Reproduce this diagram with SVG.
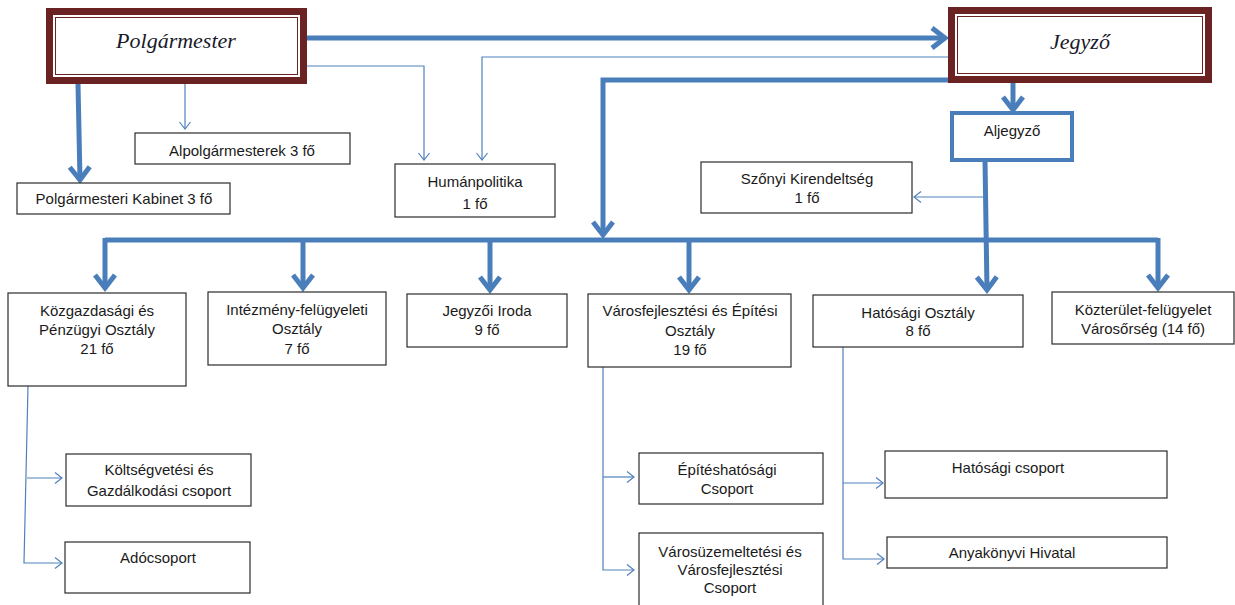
<svg xmlns="http://www.w3.org/2000/svg" width="1235" height="605" viewBox="0 0 1235 605">
<style>
.bg{fill:#ffffff}
.box rect{fill:#ffffff;stroke:#2b2b2b;stroke-width:1.2}
.t{font-family:"Liberation Sans",Arial,sans-serif;font-size:15px;fill:#1a1a1a;text-anchor:middle}
.ti{font-family:"Liberation Serif","Times New Roman",serif;font-style:italic;font-size:22px;fill:#1a1a2a;text-anchor:middle}
.outer{fill:#ffffff;stroke:#6b2222;stroke-width:7}
.inner{fill:none;stroke:#6b2222;stroke-width:1}
.thick{stroke:#4a7ebb;stroke-width:5;fill:none}
.thin{stroke:#4f81bd;stroke-width:1.2;fill:none}
.blue rect{fill:#ffffff;stroke:#4a7ebb;stroke-width:4}
</style>
<defs>
<marker id="ah" viewBox="-15 -12 17 24" refX="0" refY="0" markerWidth="17" markerHeight="24" markerUnits="userSpaceOnUse" orient="auto" overflow="visible">
<path d="M-13,-10 L0,0 L-13,10" fill="none" stroke="#4a7ebb" stroke-width="5"/>
</marker>
<marker id="at" viewBox="-8 -6 9 12" refX="0" refY="0" markerWidth="9" markerHeight="12" markerUnits="userSpaceOnUse" orient="auto" overflow="visible">
<path d="M-7,-5.5 L0,0 L-7,5.5" fill="none" stroke="#4f81bd" stroke-width="1.2"/>
</marker>
</defs>
<rect class="bg" x="0" y="0" width="1235" height="605"/>

<g id="connectors">
<line class="thick" x1="307" y1="38" x2="945" y2="38" marker-end="url(#ah)"/>
<polyline class="thin" points="307,66 424,66 424,160" marker-end="url(#at)"/>
<polyline class="thin" points="948,57 482,57 482,160" marker-end="url(#at)"/>
<polyline class="thick" points="952,80 603,80 603,235" marker-end="url(#ah)"/>
<line class="thin" x1="185" y1="84" x2="185" y2="129" marker-end="url(#at)"/>
<line class="thick" x1="78" y1="84" x2="80" y2="180" marker-end="url(#ah)"/>
<line class="thick" x1="1013" y1="83" x2="1013" y2="110" marker-end="url(#ah)"/>
<line class="thick" x1="985" y1="160" x2="987" y2="290" marker-end="url(#ah)"/>
<line class="thin" x1="985" y1="197" x2="914" y2="197" marker-end="url(#at)"/>
<line class="thick" x1="105" y1="240" x2="1158" y2="240"/>
<line class="thick" x1="105" y1="238" x2="105" y2="288" marker-end="url(#ah)"/>
<line class="thick" x1="303" y1="240" x2="303" y2="288" marker-end="url(#ah)"/>
<line class="thick" x1="490" y1="240" x2="490" y2="290" marker-end="url(#ah)"/>
<line class="thick" x1="689" y1="240" x2="689" y2="290" marker-end="url(#ah)"/>
<line class="thick" x1="1158" y1="238" x2="1158" y2="288" marker-end="url(#ah)"/>
<polyline class="thin" points="28,386 24,563 62,563" marker-end="url(#at)"/>
<line class="thin" x1="27" y1="478" x2="62" y2="478" marker-end="url(#at)"/>
<polyline class="thin" points="603,367 603,570 634,570" marker-end="url(#at)"/>
<line class="thin" x1="603" y1="477" x2="634" y2="477" marker-end="url(#at)"/>
<polyline class="thin" points="843,347 843,559 884,559" marker-end="url(#at)"/>
<line class="thin" x1="843" y1="483" x2="883" y2="483" marker-end="url(#at)"/>
</g>

<g id="polgarmester">
<rect class="outer" x="49.5" y="11.5" width="254" height="69"/>
<rect class="inner" x="55.5" y="17.5" width="242" height="57"/>
<text class="ti" x="176" y="48">Polgármester</text>
</g>
<g id="jegyzo">
<rect class="outer" x="951.5" y="10.5" width="257" height="69"/>
<rect class="inner" x="957.5" y="16.5" width="245" height="57"/>
<text class="ti" x="1080" y="49">Jegyző</text>
</g>
<g id="aljegyzo" class="blue">
<rect x="952" y="113" width="120" height="47"/>
<text class="t" x="1012" y="136">Aljegyző</text>
</g>
<g id="kabinet" class="box">
<rect x="17" y="183" width="213" height="31"/>
<text class="t" x="124" y="204">Polgármesteri Kabinet 3 fő</text>
</g>
<g id="alpolgarmesterek" class="box">
<rect x="135" y="133" width="215" height="31"/>
<text class="t" x="242" y="156">Alpolgármesterek 3 fő</text>
</g>
<g id="humanpolitika" class="box">
<rect x="395" y="164" width="160" height="53"/>
<text class="t" x="475" y="187">Humánpolitika</text>
<text class="t" x="475" y="209">1 fő</text>
</g>
<g id="szonyi" class="box">
<rect x="701" y="162" width="211" height="51"/>
<text class="t" x="807" y="184">Szőnyi Kirendeltség</text>
<text class="t" x="807" y="203">1 fő</text>
</g>
<g id="kozgazdasagi" class="box">
<rect x="8" y="293" width="178" height="93"/>
<text class="t" x="97" y="316">Közgazdasági és</text>
<text class="t" x="97" y="335">Pénzügyi Osztály</text>
<text class="t" x="97" y="354">21 fő</text>
</g>
<g id="intezmeny" class="box">
<rect x="208" y="292" width="178" height="73"/>
<text class="t" x="297" y="315">Intézmény-felügyeleti</text>
<text class="t" x="297" y="334">Osztály</text>
<text class="t" x="297" y="354">7 fő</text>
</g>
<g id="jegyzoi-iroda" class="box">
<rect x="407" y="294" width="160" height="53"/>
<text class="t" x="487" y="316">Jegyzői Iroda</text>
<text class="t" x="487" y="335">9 fő</text>
</g>
<g id="varosfejlesztesi" class="box">
<rect x="588" y="294" width="203" height="73"/>
<text class="t" x="690" y="316">Városfejlesztési és Építési</text>
<text class="t" x="690" y="336">Osztály</text>
<text class="t" x="690" y="355">19 fő</text>
</g>
<g id="hatosagi-osztaly" class="box">
<rect x="813" y="295" width="210" height="52"/>
<text class="t" x="918" y="318">Hatósági Osztály</text>
<text class="t" x="918" y="336">8 fő</text>
</g>
<g id="kozterulet" class="box">
<rect x="1052" y="292" width="182" height="52"/>
<text class="t" x="1143" y="315">Közterület-felügyelet</text>
<text class="t" x="1143" y="334">Városőrség (14 fő)</text>
</g>
<g id="koltsegvetesi" class="box">
<rect x="66" y="454" width="185" height="52"/>
<text class="t" x="159" y="475">Költségvetési és</text>
<text class="t" x="159" y="496">Gazdálkodási csoport</text>
</g>
<g id="adocsoport" class="box">
<rect x="65" y="542" width="185" height="51"/>
<text class="t" x="158" y="563">Adócsoport</text>
</g>
<g id="epiteshatosagi" class="box">
<rect x="639" y="453" width="184" height="51"/>
<text class="t" x="727" y="475">Építéshatósági</text>
<text class="t" x="727" y="494">Csoport</text>
</g>
<g id="varosuzemeltetesi" class="box">
<rect x="639" y="533" width="184" height="80"/>
<text class="t" x="730" y="557">Városüzemeltetési és</text>
<text class="t" x="730" y="575">Városfejlesztési</text>
<text class="t" x="730" y="593">Csoport</text>
</g>
<g id="hatosagi-csoport" class="box">
<rect x="885" y="451" width="282" height="47"/>
<text class="t" x="1008" y="473">Hatósági csoport</text>
</g>
<g id="anyakonyvi" class="box">
<rect x="887" y="537" width="280" height="31"/>
<text class="t" x="1012" y="558">Anyakönyvi Hivatal</text>
</g>
</svg>
